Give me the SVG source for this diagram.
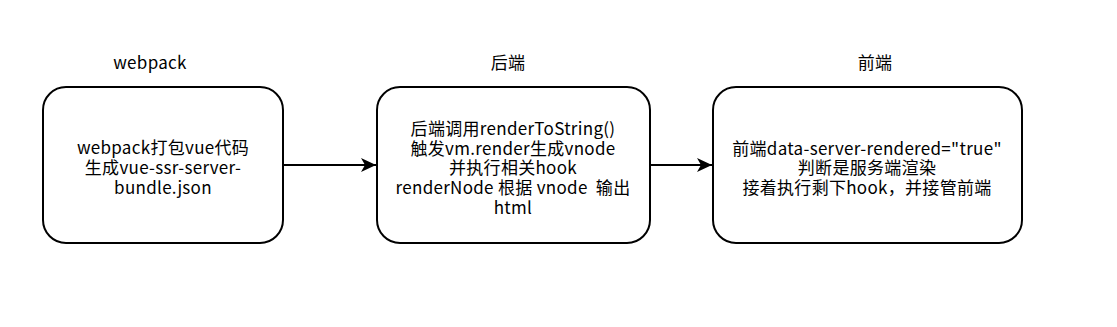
<svg xmlns="http://www.w3.org/2000/svg" width="1117" height="327" viewBox="0 0 1117 327">
<style>
.box{fill:#fff;stroke:#000;stroke-width:2}
.t{font-family:"Noto Sans CJK SC","Liberation Sans",sans-serif;font-size:17px;letter-spacing:0.3px;fill:#000;text-anchor:middle}
.edge{stroke:#000;stroke-width:2;fill:none}
</style>
<defs>
<marker id="arr" markerUnits="userSpaceOnUse" markerWidth="16" markerHeight="16" viewBox="0 0 16 16" refX="15" refY="8" orient="auto">
<path d="M0,1 L15,8 L0,15 L4,8 Z" fill="#000"/>
</marker>
</defs>
<rect width="1117" height="327" fill="#fff"/>
<g id="label-webpack"><text class="t" x="150" y="69">webpack</text></g>
<g id="label-backend"><text class="t" x="508" y="69">后端</text></g>
<g id="label-frontend"><text class="t" x="875" y="69">前端</text></g>
<g id="node-webpack">
<rect class="box" x="43" y="87" width="240" height="156" rx="23" ry="23"/>
<text class="t" x="163" y="154">webpack打包vue代码</text>
<text class="t" x="163" y="174">生成vue-ssr-server-</text>
<text class="t" x="163" y="194">bundle.json</text>
</g>
<g id="node-backend">
<rect class="box" x="377" y="87" width="273" height="156" rx="23" ry="23"/>
<text class="t" x="513" y="135">后端调用renderToString()</text>
<text class="t" x="513" y="155">触发vm.render生成vnode</text>
<text class="t" x="513" y="174">并执行相关hook</text>
<text class="t" x="513" y="194" xml:space="preserve">renderNode 根据 vnode  输出</text>
<text class="t" x="513" y="214">html</text>
</g>
<g id="node-frontend">
<rect class="box" x="713" y="87" width="309" height="156" rx="23" ry="23"/>
<text class="t" x="867" y="155">前端data-server-rendered="true"</text>
<text class="t" x="867" y="174">判断是服务端渲染</text>
<text class="t" x="867" y="194">接着执行剩下hook，并接管前端</text>
</g>
<g id="connectors">
<line class="edge" x1="283" y1="165" x2="376" y2="165" marker-end="url(#arr)"/>
<line class="edge" x1="650" y1="165" x2="712" y2="165" marker-end="url(#arr)"/>
</g>
</svg>
